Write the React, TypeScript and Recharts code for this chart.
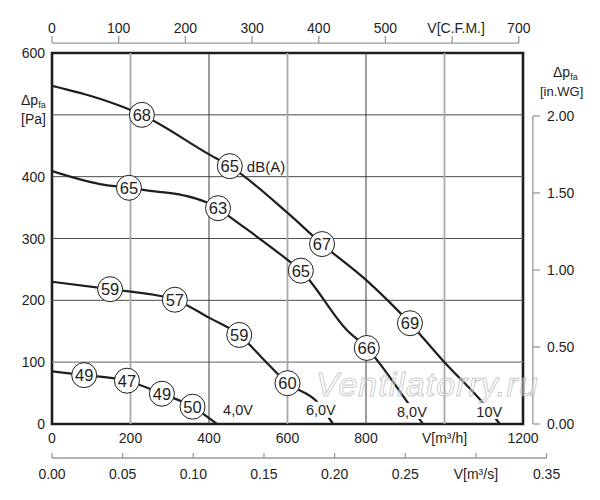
import React from 'react';
import {
  ComposedChart,
  Line,
  Scatter,
  XAxis,
  YAxis,
  ReferenceLine,
  ReferenceArea,
} from 'recharts';

const FONT = '"Liberation Sans", Arial, Helvetica, sans-serif';
const INK = '#1e1e1e';
const AXIS_GREY = '#9a9a9a';

// fan curves: q = flow [m³/h], p = static pressure [Pa]
const curve10V = [
  { q: 0, p: 547 },
  { q: 122, p: 526 },
  { q: 229, p: 500 },
  { q: 400, p: 436 },
  { q: 453, p: 417 },
  { q: 601, p: 341 },
  { q: 688, p: 291 },
  { q: 800, p: 233 },
  { q: 912, p: 163 },
  { q: 1001, p: 99 },
  { q: 1098, p: 34 },
  { q: 1141, p: 0 },
];
const curve8V = [
  { q: 0, p: 409 },
  { q: 122, p: 388 },
  { q: 196, p: 382 },
  { q: 250, p: 377 },
  { q: 334, p: 370 },
  { q: 423, p: 349 },
  { q: 453, p: 335 },
  { q: 601, p: 265 },
  { q: 634, p: 248 },
  { q: 751, p: 152 },
  { q: 802, p: 123 },
  { q: 907, p: 34 },
  { q: 945, p: 0 },
];
const curve6V = [
  { q: 0, p: 230 },
  { q: 148, p: 218 },
  { q: 201, p: 214 },
  { q: 250, p: 210 },
  { q: 313, p: 201 },
  { q: 400, p: 172 },
  { q: 477, p: 144 },
  { q: 547, p: 99 },
  { q: 600, p: 66 },
  { q: 678, p: 34 },
  { q: 716, p: 0 },
];
const curve4V = [
  { q: 0, p: 85 },
  { q: 82, p: 79 },
  { q: 191, p: 70 },
  { q: 280, p: 49 },
  { q: 358, p: 28 },
  { q: 420, p: 0 },
];

// sound level badges [dB(A)]
const db10V = [
  { q: 229, p: 500, db: 68 },
  { q: 453, p: 417, db: 65, unit: 'dB(A)' },
  { q: 688, p: 291, db: 67 },
  { q: 912, p: 163, db: 69 },
];
const db8V = [
  { q: 196, p: 382, db: 65 },
  { q: 423, p: 349, db: 63 },
  { q: 634, p: 248, db: 65 },
  { q: 802, p: 123, db: 66 },
];
const db6V = [
  { q: 148, p: 218, db: 59 },
  { q: 313, p: 201, db: 57 },
  { q: 477, p: 144, db: 59 },
  { q: 600, p: 66, db: 60 },
];
const db4V = [
  { q: 82, p: 79, db: 49 },
  { q: 191, p: 70, db: 47 },
  { q: 280, p: 49, db: 49 },
  { q: 358, p: 28, db: 50 },
];

const voltageLabels = [
  { q: 474, p: 23, text: '4,0V' },
  { q: 685, p: 23, text: '6,0V' },
  { q: 917, p: 21, text: '8,0V' },
  { q: 1114, p: 21, text: '10V' },
];

const flowTicks = [0, 200, 400, 600, 800, 1000, 1200];
const pressureTicks = [0, 100, 200, 300, 400, 500, 600];
const cfmTicks = [0, 100, 200, 300, 400, 500, 600, 700];
const m3sTicks = [0, 0.05, 0.1, 0.15, 0.2, 0.25, 0.3, 0.35];
const inwgTicks = [0, 0.5, 1, 1.5, 2];

const gridFlowLight = [200, 600, 1000];
const gridFlowDark = [400, 800];
const gridPaLight = [100];
const gridPaDark = [200, 300, 400, 500];

const FLOW_MAX = 1200;
const PA_MAX = 600;
const CFM_MAX = FLOW_MAX / 1.699;
const M3S_MAX = FLOW_MAX / 3600;
const INWG_MAX = PA_MAX / 249.09;

const txt = { fontFamily: FONT, fill: INK };

const FlowTick = ({ x, y, payload }: any) => (
  <text x={x} y={y + 19} textAnchor="middle" fontSize={14} style={txt}>
    {payload.value === 1000 ? 'V[m³/h]' : String(payload.value)}
  </text>
);

const PressureTick = ({ x, y, payload }: any) => {
  if (payload.value === 500) {
    return (
      <g>
        <text x={x - 31} y={y - 10} fontSize={14} style={txt}>
          Δp<tspan fontSize={9} dy={3}>fa</tspan>
        </text>
        <text x={x - 31} y={y + 9} fontSize={14} style={txt}>
          [Pa]
        </text>
      </g>
    );
  }
  return (
    <text x={x - 7} y={y + 5} textAnchor="end" fontSize={14} style={txt}>
      {payload.value}
    </text>
  );
};

const CfmTick = ({ x, y, payload }: any) => (
  <g>
    <line x1={x} y1={y - 17} x2={x} y2={y - 10} stroke={AXIS_GREY} strokeWidth={1.3} />
    <text
      x={payload.value === 600 ? x + 4 : x}
      y={y - 20}
      textAnchor="middle"
      fontSize={14}
      style={txt}
    >
      {payload.value === 600 ? 'V[C.F.M.]' : String(payload.value)}
    </text>
  </g>
);

const M3sTick = ({ x, y, payload }: any) => {
  const v = payload.value;
  return (
    <g>
      <line x1={x} y1={y - 5} x2={x} y2={y} stroke={AXIS_GREY} strokeWidth={1.3} />
      <text x={x} y={y + 21} textAnchor="middle" fontSize={14} style={txt}>
        {Math.abs(v - 0.3) < 1e-6 ? 'V[m³/s]' : v.toFixed(2)}
      </text>
    </g>
  );
};

const InwgTick = ({ x, y, payload }: any) => (
  <g>
    <line x1={x + 10} y1={y} x2={x + 17} y2={y} stroke={AXIS_GREY} strokeWidth={1.3} />
    <text x={x + 24} y={y + 5} fontSize={14} style={txt}>
      {payload.value.toFixed(2)}
    </text>
    {payload.value === 2 && (
      <g>
        <text x={x + 30} y={y - 39} fontSize={14} style={txt}>
          Δp<tspan fontSize={9} dy={3}>fa</tspan>
        </text>
        <text x={x + 17} y={y - 20} fontSize={13} style={txt}>
          [in.WG]
        </text>
      </g>
    )}
  </g>
);

const DbBadge = ({ cx, cy, payload }: any) => (
  <g>
    <circle cx={cx} cy={cy} r={12.5} fill="#fff" stroke={INK} strokeWidth={1} />
    <text x={cx} y={cy + 6} textAnchor="middle" fontSize={16.5} style={txt}>
      {payload.db}
    </text>
    {payload.unit && (
      <text x={cx + 17} y={cy + 5.5} fontSize={15} style={txt}>
        {payload.unit}
      </text>
    )}
  </g>
);

const VoltageTag = ({ cx, cy, payload }: any) => (
  <g>
    <rect x={cx - 17} y={cy - 8} width={34} height={16} fill="#fff" />
    <text x={cx} y={cy + 5.5} textAnchor="middle" fontSize={14.5} style={txt}>
      {payload.text}
    </text>
  </g>
);

const curves = [curve10V, curve8V, curve6V, curve4V];
const badges = [db10V, db8V, db6V, db4V];

export default function App() {
  return (
    <div style={{ position: 'absolute', left: 0, top: 0, width: 600, height: 500 }}>
      {/* chart-level data so that the secondary unit axes (no series of their own) get a scale */}
      <ComposedChart
        width={600}
        height={500}
        data={curve10V}
        margin={{ top: 0, right: 0, bottom: 0, left: 0 }}
        style={{ fontFamily: FONT }}
      >
        <XAxis
          xAxisId="m3h"
          dataKey="q"
          type="number"
          orientation="bottom"
          domain={[0, FLOW_MAX]}
          ticks={flowTicks}
          interval={0}
          allowDataOverflow
          height={34}
          axisLine={false}
          tickLine={false}
          tickSize={0}
          tickMargin={0}
          tick={FlowTick}
        />
        <XAxis
          xAxisId="m3s"
          dataKey="q"
          type="number"
          orientation="bottom"
          domain={[0, M3S_MAX]}
          ticks={m3sTicks}
          interval={0}
          allowDataOverflow
          height={42}
          axisLine={false}
          tickLine={false}
          tickSize={0}
          tickMargin={0}
          tick={M3sTick}
        />
        <XAxis
          xAxisId="cfm"
          dataKey="q"
          type="number"
          orientation="top"
          domain={[0, CFM_MAX]}
          ticks={cfmTicks}
          interval={0}
          allowDataOverflow
          height={53}
          axisLine={false}
          tickLine={false}
          tickSize={0}
          tickMargin={0}
          tick={CfmTick}
        />
        <YAxis
          yAxisId="pa"
          dataKey="p"
          type="number"
          orientation="left"
          domain={[0, PA_MAX]}
          ticks={pressureTicks}
          interval={0}
          allowDataOverflow
          width={52}
          axisLine={false}
          tickLine={false}
          tickSize={0}
          tickMargin={0}
          tick={PressureTick}
        />
        <YAxis
          yAxisId="inwg"
          type="number"
          orientation="right"
          domain={[0, INWG_MAX]}
          ticks={inwgTicks}
          interval={0}
          allowDataOverflow
          width={77}
          axisLine={false}
          tickLine={false}
          tickSize={0}
          tickMargin={0}
          tick={InwgTick}
        />

        {gridPaLight.map((v) => (
          <ReferenceLine key={'pl' + v} xAxisId="m3h" yAxisId="pa" y={v} stroke="#808080" strokeWidth={1.3} />
        ))}
        {gridPaDark.map((v) => (
          <ReferenceLine key={'pd' + v} xAxisId="m3h" yAxisId="pa" y={v} stroke="#4a4a4a" strokeWidth={1} />
        ))}
        {gridFlowLight.map((v) => (
          <ReferenceLine key={'fl' + v} xAxisId="m3h" yAxisId="pa" x={v} stroke="#a8a8a8" strokeWidth={1.8} />
        ))}
        {gridFlowDark.map((v) => (
          <ReferenceLine key={'fd' + v} xAxisId="m3h" yAxisId="pa" x={v} stroke="#3c3c3c" strokeWidth={1} />
        ))}

        <ReferenceArea
          xAxisId="m3h"
          yAxisId="pa"
          x1={0}
          x2={FLOW_MAX}
          y1={0}
          y2={PA_MAX}
          fill="none"
          fillOpacity={0}
          stroke={INK}
          strokeWidth={2.6}
        />

        {/* secondary axis lines */}
        <ReferenceLine
          xAxisId="cfm"
          yAxisId="pa"
          segment={[{ x: 0, y: 616 }, { x: 700, y: 616 }]}
          ifOverflow="visible"
          stroke={AXIS_GREY}
          strokeWidth={1.3}
        />
        <ReferenceLine
          xAxisId="m3s"
          yAxisId="pa"
          segment={[{ x: 0, y: -55 }, { x: 0.35, y: -55 }]}
          ifOverflow="visible"
          stroke={AXIS_GREY}
          strokeWidth={1.3}
        />
        <ReferenceLine
          xAxisId="m3h"
          yAxisId="inwg"
          segment={[{ x: 1225, y: 0 }, { x: 1225, y: 2 }]}
          ifOverflow="visible"
          stroke={AXIS_GREY}
          strokeWidth={1.3}
        />

        {curves.map((c, i) => (
          <Line
            key={'c' + i}
            data={c}
            xAxisId="m3h"
            yAxisId="pa"
            dataKey="p"
            type="monotone"
            stroke={INK}
            strokeWidth={2.2}
            dot={false}
            activeDot={false}
            isAnimationActive={false}
          />
        ))}
        <Scatter
          data={voltageLabels}
          xAxisId="m3h"
          yAxisId="pa"
          dataKey="p"
          shape={VoltageTag}
          isAnimationActive={false}
        />
        {badges.map((b, i) => (
          <Scatter
            key={'b' + i}
            data={b}
            xAxisId="m3h"
            yAxisId="pa"
            dataKey="p"
            shape={DbBadge}
            isAnimationActive={false}
          />
        ))}
      </ComposedChart>
      <div
        style={{
          position: 'absolute',
          left: 316,
          top: 366,
          fontFamily: FONT,
          fontStyle: 'italic',
          fontSize: 34,
          lineHeight: '36px',
          letterSpacing: 1,
          color: 'rgba(255,255,255,0.4)',
          WebkitTextStroke: '1px rgba(185,185,185,0.75)',
          pointerEvents: 'none',
          whiteSpace: 'nowrap',
        }}
      >
        Ventilatorry.ru
      </div>
    </div>
  );
}
